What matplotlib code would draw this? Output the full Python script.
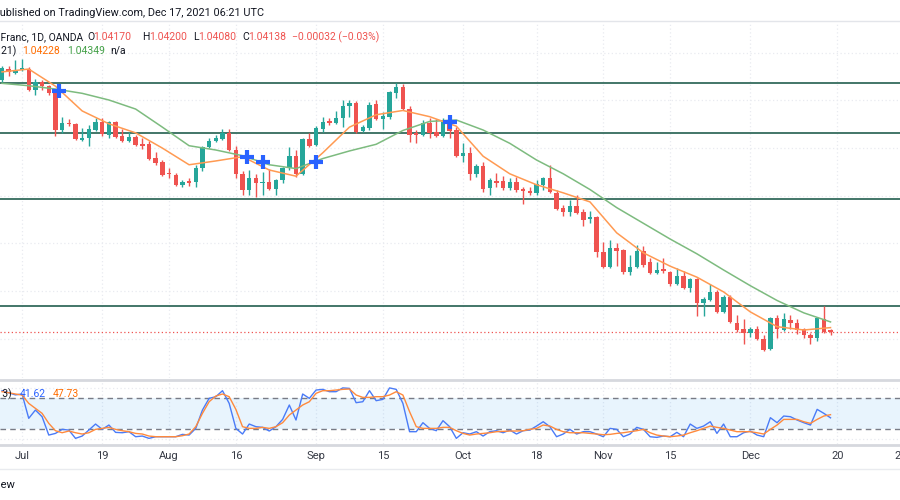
"""EUR/CHF daily candles with two EMAs and a stochastic pane (TradingView look)."""
import numpy as np
import matplotlib
matplotlib.use("Agg")
from matplotlib import pyplot as plt
from matplotlib.lines import Line2D


# Daily bars, Jun 28 2021 -> Dec 17 2021 (weekdays only)
opens = [
    1.0943, 1.0966, 1.0958, 1.0964, 1.0966, 1.0922, 1.0939, 1.0930, 1.0916, 1.0838,
    1.0853, 1.0851, 1.0817, 1.0821, 1.0838, 1.0855, 1.0828, 1.0855, 1.0825, 1.0815,
    1.0823, 1.0809, 1.0809, 1.0779, 1.0771, 1.0748, 1.0744, 1.0723, 1.0731, 1.0729,
    1.0758, 1.0802, 1.0815, 1.0819, 1.0832, 1.0796, 1.0746, 1.0712, 1.0737, 1.0727,
    1.0729, 1.0714, 1.0733, 1.0758, 1.0783, 1.0746, 1.0819, 1.0807, 1.0840, 1.0857,
    1.0853, 1.0863, 1.0888, 1.0895, 1.0836, 1.0842, 1.0893, 1.0861, 1.0865, 1.0916,
    1.0928, 1.0882, 1.0832, 1.0828, 1.0853, 1.0834, 1.0825, 1.0859, 1.0838, 1.0783,
    1.0790, 1.0746, 1.0762, 1.0716, 1.0731, 1.0731, 1.0716, 1.0729, 1.0714, 1.0710,
    1.0706, 1.0723, 1.0737, 1.0706, 1.0674, 1.0666, 1.0678, 1.0666, 1.0651, 1.0655,
    1.0582, 1.0550, 1.0590, 1.0586, 1.0540, 1.0550, 1.0584, 1.0561, 1.0538, 1.0546,
    1.0540, 1.0515, 1.0531, 1.0506, 1.0525, 1.0475, 1.0481, 1.0498, 1.0456, 1.0487,
    1.0433, 1.0420, 1.0412, 1.0420, 1.0399, 1.0378, 1.0443, 1.0418, 1.0439, 1.0433,
    1.0420, 1.0407, 1.0401, 1.0441, 1.0417,
]
highs = [
    1.0972, 1.0972, 1.0985, 1.0987, 1.0970, 1.0945, 1.0943, 1.0933, 1.0920, 1.0865,
    1.0861, 1.0853, 1.0842, 1.0849, 1.0863, 1.0863, 1.0857, 1.0857, 1.0840, 1.0834,
    1.0828, 1.0821, 1.0815, 1.0792, 1.0775, 1.0758, 1.0748, 1.0733, 1.0737, 1.0765,
    1.0804, 1.0821, 1.0828, 1.0840, 1.0840, 1.0804, 1.0752, 1.0754, 1.0746, 1.0750,
    1.0756, 1.0735, 1.0760, 1.0802, 1.0796, 1.0821, 1.0832, 1.0846, 1.0865, 1.0863,
    1.0878, 1.0901, 1.0901, 1.0899, 1.0849, 1.0897, 1.0901, 1.0876, 1.0920, 1.0937,
    1.0935, 1.0888, 1.0838, 1.0859, 1.0863, 1.0861, 1.0863, 1.0863, 1.0844, 1.0811,
    1.0802, 1.0767, 1.0771, 1.0737, 1.0748, 1.0741, 1.0737, 1.0739, 1.0718, 1.0718,
    1.0733, 1.0739, 1.0765, 1.0712, 1.0681, 1.0691, 1.0702, 1.0672, 1.0668, 1.0657,
    1.0603, 1.0607, 1.0601, 1.0588, 1.0576, 1.0597, 1.0594, 1.0569, 1.0561, 1.0569,
    1.0542, 1.0548, 1.0542, 1.0527, 1.0527, 1.0487, 1.0515, 1.0502, 1.0492, 1.0492,
    1.0450, 1.0441, 1.0424, 1.0426, 1.0408, 1.0445, 1.0450, 1.0454, 1.0450, 1.0441,
    1.0422, 1.0412, 1.0445, 1.0468, 1.0420,
]
lows = [
    1.0939, 1.0951, 1.0956, 1.0962, 1.0920, 1.0912, 1.0922, 1.0912, 1.0825, 1.0832,
    1.0846, 1.0817, 1.0815, 1.0804, 1.0836, 1.0825, 1.0821, 1.0821, 1.0813, 1.0813,
    1.0804, 1.0798, 1.0775, 1.0765, 1.0741, 1.0737, 1.0720, 1.0718, 1.0720, 1.0718,
    1.0752, 1.0800, 1.0813, 1.0817, 1.0794, 1.0737, 1.0702, 1.0702, 1.0697, 1.0702,
    1.0712, 1.0702, 1.0727, 1.0754, 1.0739, 1.0744, 1.0802, 1.0804, 1.0834, 1.0849,
    1.0851, 1.0844, 1.0865, 1.0832, 1.0834, 1.0838, 1.0859, 1.0840, 1.0861, 1.0905,
    1.0880, 1.0813, 1.0811, 1.0825, 1.0821, 1.0823, 1.0823, 1.0821, 1.0781, 1.0771,
    1.0733, 1.0739, 1.0708, 1.0702, 1.0718, 1.0712, 1.0712, 1.0708, 1.0683, 1.0702,
    1.0702, 1.0712, 1.0706, 1.0670, 1.0657, 1.0657, 1.0662, 1.0636, 1.0643, 1.0571,
    1.0548, 1.0548, 1.0552, 1.0536, 1.0534, 1.0548, 1.0550, 1.0536, 1.0536, 1.0538,
    1.0510, 1.0513, 1.0504, 1.0498, 1.0447, 1.0447, 1.0479, 1.0454, 1.0454, 1.0433,
    1.0414, 1.0389, 1.0403, 1.0397, 1.0374, 1.0376, 1.0401, 1.0416, 1.0420, 1.0410,
    1.0401, 1.0389, 1.0395, 1.0412, 1.0408,
]
closes = [
    1.0968, 1.0960, 1.0964, 1.0968, 1.0922, 1.0939, 1.0930, 1.0916, 1.0838, 1.0853,
    1.0851, 1.0819, 1.0821, 1.0840, 1.0855, 1.0830, 1.0855, 1.0823, 1.0815, 1.0823,
    1.0807, 1.0804, 1.0777, 1.0769, 1.0744, 1.0746, 1.0723, 1.0729, 1.0727, 1.0758,
    1.0802, 1.0815, 1.0821, 1.0832, 1.0796, 1.0746, 1.0712, 1.0737, 1.0727, 1.0729,
    1.0714, 1.0733, 1.0758, 1.0783, 1.0746, 1.0819, 1.0804, 1.0842, 1.0855, 1.0853,
    1.0863, 1.0888, 1.0895, 1.0834, 1.0844, 1.0891, 1.0861, 1.0867, 1.0918, 1.0928,
    1.0882, 1.0828, 1.0828, 1.0853, 1.0832, 1.0825, 1.0855, 1.0836, 1.0783, 1.0790,
    1.0746, 1.0762, 1.0714, 1.0733, 1.0727, 1.0716, 1.0729, 1.0712, 1.0710, 1.0706,
    1.0725, 1.0737, 1.0708, 1.0672, 1.0666, 1.0678, 1.0664, 1.0649, 1.0655, 1.0582,
    1.0550, 1.0590, 1.0584, 1.0540, 1.0550, 1.0584, 1.0555, 1.0538, 1.0544, 1.0542,
    1.0515, 1.0531, 1.0506, 1.0525, 1.0475, 1.0483, 1.0498, 1.0456, 1.0487, 1.0435,
    1.0418, 1.0412, 1.0420, 1.0399, 1.0376, 1.0443, 1.0420, 1.0441, 1.0433, 1.0418,
    1.0407, 1.0401, 1.0443, 1.0414, 1.0414,
]

# EMA readings, every 4th bar
ema_idx = np.arange(0, 125, 4)
ema_fast = [
    1.0960, 1.0966, 1.0930, 1.0878, 1.0851, 1.0832, 1.0800, 1.0765,
    1.0773, 1.0782, 1.0754, 1.0741, 1.0790, 1.0844, 1.0870, 1.0879,
    1.0866, 1.0846, 1.0783, 1.0746, 1.0723, 1.0706, 1.0687, 1.0622,
    1.0580, 1.0552, 1.0529, 1.0498, 1.0456, 1.0425, 1.0418, 1.0423,
]
ema_slow = [
    1.0936, 1.0931, 1.0924, 1.0915, 1.0901, 1.0882, 1.0844, 1.0805,
    1.0796, 1.0784, 1.0765, 1.0757, 1.0778, 1.0794, 1.0808, 1.0837,
    1.0856, 1.0859, 1.0838, 1.0810, 1.0775, 1.0746, 1.0713, 1.0675,
    1.0642, 1.0609, 1.0578, 1.0544, 1.0511, 1.0480, 1.0454, 1.0435,
]

# crossover markers (bar index, price)
cross_idx = [8.5, 36.7, 39, 47, 67]
cross_px = [1.0920, 1.0781, 1.0771, 1.0771, 1.0855]

# support / resistance levels
levels = [1.0937, 1.0832, 1.0693, 1.0468]
last_close = 1.04138
price_grid = [1.04, 1.05, 1.06, 1.07, 1.08, 1.09, 1.10]

# stochastic %K and %D
stoch_k = [
    94.1, 90.2, 86, 87.7, 40.6, 56.7, 43.8, 8.3, 11.5, 19.3,
    18, 1.9, 6.4, 18, 29.6, 19.3, 27.7, 13.5, 12.8, 14.8,
    5.1, 6.4, 1.9, 5.1, 5.1, 5.1, 5.1, 9.6, 8.3, 21.2,
    56.7, 79.3, 82.5, 94.1, 69.6, 21.2, 10.3, 29.6, 24.5, 23.2,
    16.1, 24.5, 38.6, 66.4, 37.4, 87.7, 79.3, 95.4, 96.7, 92.2,
    92.2, 99.5, 98.6, 70.9, 72.8, 94.1, 74.8, 77.3, 99.5, 96.7,
    69.6, 14.8, 14.8, 32.2, 21.2, 16.7, 36.1, 24.5, 1.9, 12.8,
    10.3, 14.8, 6.4, 14.8, 16.7, 12.8, 18, 10.3, 16.7, 18,
    25.7, 34.1, 24.5, 5.1, 10.3, 19.3, 10.3, 14.8, 14.8, 10.3,
    5.1, 21.2, 19.3, 5.1, 10.3, 23.2, 19.3, 5.1, 3.8, 6.4,
    5.1, 13.5, 5.1, 29.6, 21.2, 25.7, 34.1, 11.5, 29.6, 5.1,
    5.1, 12.8, 16.1, 8.3, 5.1, 41.9, 32.2, 45.1, 43.8, 37.4,
    32.2, 27.7, 58, 50.3, 41.62,
]
stoch_d = [
    92.2, 90.2, 87.7, 85.7, 69.6, 59.9, 50.3, 30.9, 16.7, 12.8,
    16.1, 12.8, 10.3, 12.8, 19.3, 21.2, 23.2, 19.3, 16.7, 14.8,
    11.5, 10.3, 6.4, 5.1, 5.1, 5.1, 5.1, 7, 10.3, 24.5,
    50.3, 72.8, 83.8, 87.7, 82.5, 58, 24.5, 21.2, 21.2, 23.2,
    21.2, 24.5, 32.2, 47, 56.7, 66.4, 72.8, 89, 94.1, 94.1,
    95.4, 96.7, 97.3, 85.7, 81.2, 81.2, 82.5, 82.5, 85.7, 92.2,
    85.7, 53.5, 24.5, 21.2, 21.2, 21.2, 23.2, 23.2, 16.7, 11.5,
    8.3, 10.3, 11.5, 12.8, 14.8, 15.4, 16.1, 16.1, 16.7, 19.3,
    21.2, 27.7, 25.7, 19.3, 14.8, 12.8, 12.8, 12.8, 11.5, 10.3,
    9, 9.6, 11.5, 12.8, 14.8, 16.7, 19.3, 12.8, 8.3, 6.4,
    5.1, 6.4, 8.3, 12.8, 16.7, 21.2, 25.7, 23.2, 21.2, 18,
    14.8, 14.8, 14.8, 12.8, 10.3, 19.3, 27.7, 38.6, 38.6, 38.6,
    34.1, 30.9, 38.6, 45.1, 47.73,
]

# time axis (bar index of each label)
tick_idx = [3, 15, 25, 35, 47, 57, 69, 80, 90, 100, 112, 125, 135.5]
tick_text = ['Jul', '19', 'Aug', '16', 'Sep', '15', 'Oct', '18', 'Nov', '15',
             'Dec', '20', '2022']

UP = '#26a69a'
DOWN = '#ef5350'
TEXT = '#131722'
GRID = '#e9ebf0'
SEP = '#d6d8de'


def fx(px):
    return px / 900


def fy(py):
    return 1 - py / 500


def hline(fig, py, color, lw):
    fig.add_artist(Line2D([0, 1], [fy(py), fy(py)], transform=fig.transFigure,
                          color=color, lw=lw))


def main():
    plt.rcParams['font.family'] = ['Roboto', 'DejaVu Sans']

    fig = plt.figure(figsize=(9, 5), dpi=100)
    fig.patch.set_facecolor('white')
    ax = fig.add_axes([0, fy(378), 1, (378 - 22) / 500])
    ax2 = fig.add_axes([0, fy(444), 1, (444 - 380) / 500])

    for a in (ax, ax2):
        a.set_xlim(-0.3, 134.4)
        for s in a.spines.values():
            s.set_visible(False)
        a.set_xticks([])
        a.set_yticks([])
        for t in tick_idx:
            a.axvline(t, color=GRID, ls=(0, (1, 2)), lw=0.9, zorder=0)

    # --- main pane
    ax.set_ylim(1.03172, 1.10648)
    for p in price_grid:
        ax.axhline(p, color=GRID, ls=(0, (1, 2)), lw=0.9, zorder=0)
    for lv in levels:
        ax.axhline(lv, color='#2b6556', lw=1.25, zorder=1)
    ax.axhline(last_close, color=DOWN, ls=(0, (1, 2)), lw=0.9, zorder=1)

    x = np.arange(len(opens))
    o = np.array(opens)
    c = np.array(closes)
    colors = np.where(c >= o, UP, DOWN)
    ax.vlines(x, lows, highs, colors=colors, lw=1, zorder=2)
    ax.bar(x, np.maximum(np.abs(c - o), 0.00012), bottom=np.minimum(o, c),
           width=0.66, color=colors, linewidth=0, zorder=3)

    ax.plot(ema_idx, ema_slow, color='#7dbb7f', lw=1.1, zorder=4)
    ax.plot(ema_idx, ema_fast, color='#ff9a52', lw=1.1, zorder=4)
    ax.plot(cross_idx, cross_px, ls='none', marker='+', ms=10, mew=3,
            color='#2962ff', zorder=5)

    # --- stochastic pane
    ax2.set_ylim(-9, 114.8)
    ax2.axhspan(20, 80, color='#2196f3', alpha=0.1, lw=0, zorder=0)
    for g in (0, 100):
        ax2.axhline(g, color=GRID, ls=(0, (1, 2)), lw=0.9, zorder=0)
    for b in (80, 20):
        ax2.axhline(b, color='#787b86', ls=(0, (4, 3)), lw=1, zorder=1)
    ax2.plot(x, stoch_k, color='#4a7bf7', lw=1, zorder=3)
    ax2.plot(x, stoch_d, color='#ff8a3d', lw=1, zorder=3)

    tr = ax2.get_xaxis_transform()
    for t, lab in zip(tick_idx, tick_text):
        ax2.text(t, -12 / 64, lab, transform=tr, ha='center', va='center',
                 fontsize=8, color='#363a45', clip_on=False)

    # --- separators
    hline(fig, 21, '#e3e5ea', 1)
    hline(fig, 379.5, SEP, 2)
    hline(fig, 445, SEP, 2)
    hline(fig, 469, '#e9ebef', 1)

    # --- legend texts
    fig.text(fx(-7), fy(13), 'Published on TradingView.com, Dec 17, 2021 06:21 UTC',
             ha='left', va='center', fontsize=7.8, color=TEXT)

    row2 = [
        (83, 'Euro / Swiss Franc, 1D, OANDA', TEXT, 'right'),
        (87, 'O', TEXT, 'left'), (93, '1.04170', DOWN, 'left'),
        (142, 'H', TEXT, 'left'), (149, '1.04200', DOWN, 'left'),
        (193, 'L', TEXT, 'left'), (198, '1.04080', DOWN, 'left'),
        (242, 'C', TEXT, 'left'), (248, '1.04138', DOWN, 'left'),
        (292, '\u22120.00032 (\u22120.03%)', DOWN, 'left'),
    ]
    for px, s, col, ha in row2:
        fig.text(fx(px), fy(37), s, ha=ha, va='center', fontsize=7.5, color=col)

    row3 = [
        (16, 'EMA (9, 21)', TEXT, 'right'),
        (22, '1.04228', '#ff6d00', 'left'),
        (67, '1.04349', '#43a047', 'left'),
        (110, 'n/a', TEXT, 'left'),
    ]
    for px, s, col, ha in row3:
        fig.text(fx(px), fy(51), s, ha=ha, va='center', fontsize=7.5, color=col)

    row4 = [
        (12, 'Stoch 14 3 3)', TEXT, 'right'),
        (20, '41.62', '#2962ff', 'left'),
        (53, '47.73', '#ff6d00', 'left'),
    ]
    for px, s, col, ha in row4:
        fig.text(fx(px), fy(394), s, ha=ha, va='center', fontsize=7.5, color=col)

    fig.text(fx(16), fy(485), 'TradingView', ha='right', va='center',
             fontsize=8, color=TEXT)

    fig.savefig('out.png', dpi=100, facecolor='white')


if __name__ == '__main__':
    main()
